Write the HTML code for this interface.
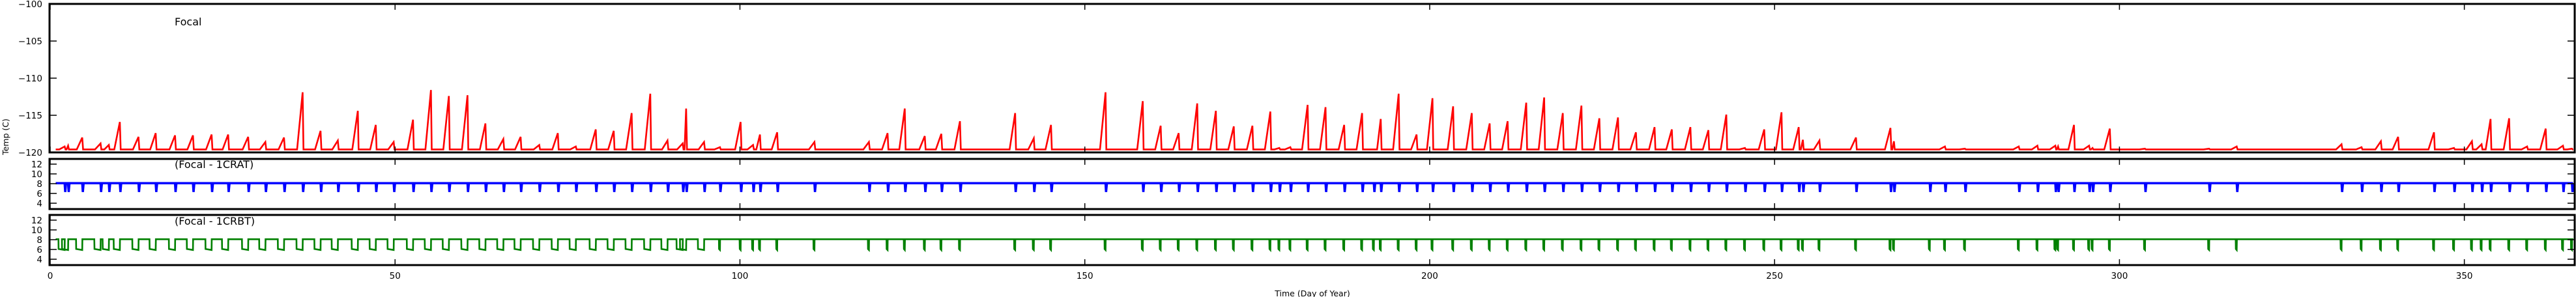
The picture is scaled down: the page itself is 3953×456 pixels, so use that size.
<!DOCTYPE html>
<html><head><meta charset="utf-8"><style>
html,body{margin:0;padding:0;background:#fff;}
svg{display:block;font-family:"DejaVu Sans","Liberation Sans",sans-serif;}
</style></head><body>
<svg id="chart" width="3953" height="456" viewBox="0 0 3953 456" xmlns="http://www.w3.org/2000/svg">
<g id="marks"></g>
<g id="frames"></g>
<text x="268" y="39" font-size="16">Focal</text>
<text x="268" y="258" font-size="16">(Focal - 1CRAT)</text>
<text x="268" y="345" font-size="16">(Focal - 1CRBT)</text>
<text x="2014" y="455" font-size="12.5" text-anchor="middle">Time (Day of Year)</text>
<text transform="translate(13,210) rotate(-90)" font-size="12.5" text-anchor="middle">Temp (C)</text>
</svg>
<script>
const peakDays = [2.1,2.6,4.65,7.3,8.5,10.1,12.8,15.3,18.1,20.7,23.4,25.8,28.7,31.2,33.9,36.6,39.2,41.7,44.6,47.2,49.8,52.6,55.2,57.8,60.5,63.1,65.7,68.2,70.9,73.6,76.2,79.1,81.7,84.3,87.0,89.5,91.7,
92.2,94.8,97.1,100.1,101.9,102.9,105.4,110.8,118.7,121.4,123.9,126.8,129.2,131.9,139.9,142.6,145.1,153.0,158.4,161.0,163.6,166.3,169.0,171.6,174.3,176.9,178.2,179.8,182.3,
184.9,187.6,190.2,191.9,192.9,195.5,198.1,200.4,203.4,206.1,208.7,211.3,214.0,216.6,219.3,222.0,224.6,227.3,229.9,232.6,235.1,237.8,240.4,243.0,245.7,248.5,251.0,253.5,254.1,256.5,261.8,266.8,267.3,272.5,
274.7,277.6,285.4,288.1,290.7,291.1,293.4,295.6,296.1,298.6,303.7,313.0,317.0,332.2,335.1,337.9,340.4,345.6,348.5,351.1,352.5,353.8,356.5,359.1,361.8,364.3,365.6];
const peakTemps = [-119.2,-119.1,-118.0,-118.8,-119.0,-115.9,-117.9,-117.4,-117.7,-117.7,-117.6,-117.6,-117.9,-118.6,-118.0,-111.9,-117.1,-118.4,-114.4,-116.3,-118.6,-115.6,-111.6,-112.4,-112.3,-116.1,-118.2,-117.9,-119.0,-117.4,-119.2,-116.9,-117.1,-114.7,-112.1,-118.4,-118.8,
-114.1,-118.6,-119.3,-115.9,-119.0,-117.6,-117.3,-118.6,-118.6,-117.4,-114.1,-117.8,-117.5,-115.8,-114.7,-118.1,-116.3,-111.9,-113.1,-116.4,-117.4,-113.4,-114.4,-116.5,-116.4,-114.5,-119.4,-119.3,-113.6,
-113.9,-116.3,-114.7,-119.6,-115.5,-112.1,-117.6,-112.7,-113.8,-114.7,-116.1,-115.8,-113.3,-112.6,-114.7,-113.7,-115.4,-115.3,-117.3,-116.6,-116.9,-116.6,-117.0,-114.9,-119.4,-116.9,-114.6,-116.6,-118.3,-118.4,-118.0,-116.7,-118.5,-119.6,
-119.2,-119.5,-119.2,-119.1,-119.1,-119.2,-116.3,-119.1,-119.4,-116.8,-119.5,-119.5,-119.2,-118.9,-119.3,-118.5,-117.9,-117.3,-119.4,-118.5,-118.9,-115.5,-115.4,-119.2,-116.8,-119.1,-119.5];
const baselineTemp = [-119.6];
const cratLevels = [8.1, 6.3];
const crbtLevels = [8.1, 5.9];
const xTicks = [0,50,100,150,200,250,300,350];
const topTicks = [-100,-105,-110,-115,-120];
const diffTicks = [12,10,8,6,4];

const NS='http://www.w3.org/2000/svg';
const marks=document.getElementById('marks'), frames=document.getElementById('frames');
const L=77,R=3951;
const X=d=>L+d*(R-L)/366;
const YT=t=>6+(-100-t)*11.4;
const Y2=v=>252+(12-v)*7.5;
const Y3=v=>338+(12-v)*7.5;
function mk(tag,attrs,parent){const e=document.createElementNS(NS,tag);for(const k in attrs)e.setAttribute(k,attrs[k]);parent.appendChild(e);return e;}

let pts=[[0.8,baselineTemp[0]]];
peakDays.forEach((d,i)=>{const w=Math.min(0.8,Math.max(0.15,(d-pts[pts.length-1][0])*0.6));
 pts.push([d-w,baselineTemp[0]]);pts.push([d,peakTemps[i]]);pts.push([d+0.12,baselineTemp[0]]);});
pts.push([365.8,baselineTemp[0]]);
const red=mk('polyline',{points:pts.map(p=>X(p[0]).toFixed(1)+','+YT(p[1]).toFixed(1)).join(' '),fill:'none',stroke:'#ff0000','stroke-width':2.6},marks);



let bp=[[0.8,cratLevels[0]]];
peakDays.forEach(d=>{bp.push([d,cratLevels[0]]);bp.push([d+0.08,cratLevels[1]]);bp.push([d+0.2,cratLevels[0]]);});
bp.push([365.8,cratLevels[0]]);
const blue=mk('polyline',{points:bp.map(p=>X(p[0]).toFixed(1)+','+Y2(p[1]).toFixed(1)).join(' '),fill:'none',stroke:'#0000ff','stroke-width':3.5},marks);



let gp=[[0.8,crbtLevels[0]]];
peakDays.forEach(d=>{const w=d<95?0.9:0.15;gp.push([d-w,crbtLevels[0]]);gp.push([d-w+0.02,crbtLevels[1]+0.2]);gp.push([d,crbtLevels[1]]);gp.push([d+0.02,crbtLevels[0]]);});
gp.push([365.8,crbtLevels[0]]);
const green=mk('polyline',{points:gp.map(p=>X(p[0]).toFixed(1)+','+Y3(p[1]).toFixed(1)).join(' '),fill:'none',stroke:'#008000','stroke-width':2.6},marks);



const panels=[[6,234],[244,321],[330,407]];
panels.forEach((p,i)=>{
 const r=mk('rect',{x:76,y:p[0],width:3875,height:p[1]-p[0],fill:'none',stroke:'#000','stroke-width':3},frames);
 
 
 xTicks.forEach(t=>{mk('line',{x1:X(t),x2:X(t),y1:p[0],y2:p[0]+9,stroke:'#000','stroke-width':1.5},frames);
  mk('line',{x1:X(t),x2:X(t),y1:p[1],y2:p[1]-9,stroke:'#000','stroke-width':1.5},frames);});
});
topTicks.forEach(t=>{const y=YT(t);
 mk('line',{x1:76,x2:87,y1:y,y2:y,stroke:'#000','stroke-width':1.5},frames);
 mk('line',{x1:3951,x2:3940,y1:y,y2:y,stroke:'#000','stroke-width':1.5},frames);
 const tx=mk('text',{x:65,y:y+5,'font-size':13.5,'text-anchor':'end'},frames);tx.textContent=String(t).replace('-','\u2212');
 
 
});
[[Y2],[Y3]].forEach(f=>{diffTicks.forEach(v=>{const y=f[0](v);
 mk('line',{x1:76,x2:87,y1:y,y2:y,stroke:'#000','stroke-width':1.5},frames);
 mk('line',{x1:3951,x2:3940,y1:y,y2:y,stroke:'#000','stroke-width':1.5},frames);
 const tx=mk('text',{x:65,y:y+5,'font-size':13.5,'text-anchor':'end'},frames);tx.textContent=v;
 
 
});});
xTicks.forEach(t=>{const tx=mk('text',{x:X(t),y:428,'font-size':13.5,'text-anchor':'middle'},frames);tx.textContent=t;
 
 
});
</script>
</body></html>
